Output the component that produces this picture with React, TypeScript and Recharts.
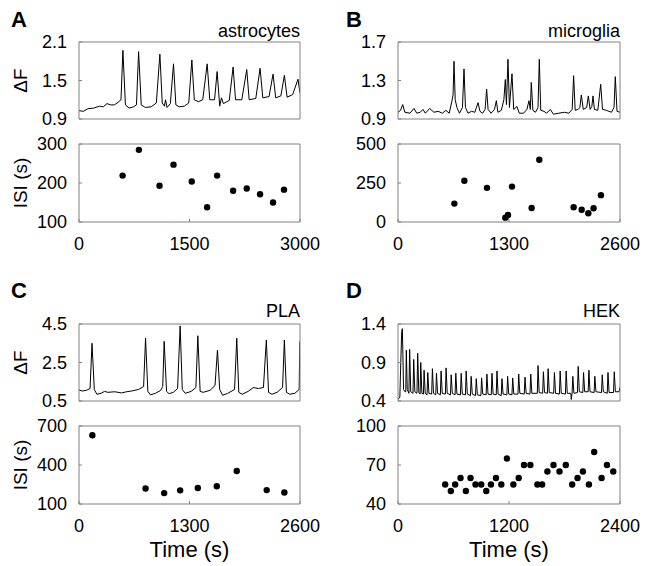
import React from 'react';
import { LineChart, Line, ScatterChart, Scatter, XAxis, YAxis } from 'recharts';

// ---- A: astrocytes ----
const astroTime = [0, 60, 120, 200, 280, 330, 380, 430, 480, 530, 570, 596, 630, 680, 740, 780, 809, 845, 900, 980, 1050, 1098, 1130, 1160, 1175, 1195, 1240, 1283, 1315, 1360, 1430, 1490, 1532, 1565, 1620, 1680, 1740, 1775, 1840, 1875, 1910, 1934, 1960, 2040, 2092, 2125, 2210, 2277, 2310, 2400, 2458, 2495, 2580, 2634, 2670, 2740, 2788, 2825, 2900, 2973, 3000];
const astroDF = [1.03, 1.02, 1.06, 1.07, 1.1, 1.09, 1.14, 1.12, 1.12, 1.16, 1.2, 1.97, 1.12, 1.07, 1.09, 1.12, 1.95, 1.12, 1.08, 1.09, 1.15, 1.91, 1.15, 1.1, 1.2, 1.08, 1.14, 1.76, 1.12, 1.09, 1.1, 1.15, 1.82, 1.2, 1.17, 1.2, 1.76, 1.2, 1.2, 1.64, 1.1, 1.23, 1.14, 1.19, 1.71, 1.2, 1.2, 1.67, 1.2, 1.22, 1.69, 1.23, 1.25, 1.6, 1.23, 1.26, 1.58, 1.24, 1.28, 1.52, 1.3];
const astroIsiTime = [592, 813, 1093, 1283, 1531, 1739, 1875, 2092, 2277, 2458, 2634, 2783];
const astroIsi = [219, 285, 193, 247, 204, 138, 219, 180, 186, 171, 150, 183];

// ---- B: microglia ----
const microTime = [0, 30, 55, 80, 140, 187, 220, 260, 293, 320, 371, 420, 470, 520, 560, 600, 630, 645, 656, 670, 690, 720, 755, 773, 790, 820, 860, 900, 937, 960, 990, 1020, 1038, 1055, 1090, 1130, 1152, 1170, 1210, 1240, 1257, 1270, 1288, 1305, 1335, 1355, 1393, 1420, 1470, 1510, 1534, 1550, 1561, 1580, 1610, 1640, 1655, 1672, 1710, 1740, 1784, 1820, 1880, 1952, 2000, 2040, 2057, 2075, 2110, 2130, 2147, 2170, 2210, 2229, 2250, 2270, 2284, 2300, 2340, 2374, 2395, 2440, 2500, 2530, 2545, 2565, 2600];
const microDF = [0.97, 0.99, 1.05, 0.97, 0.96, 1.01, 0.96, 0.97, 1.0, 0.96, 1.01, 0.97, 0.98, 0.96, 0.99, 0.96, 1.08, 1.15, 1.5, 1.1, 1.02, 0.96, 1.02, 1.42, 1.02, 0.96, 0.98, 0.97, 1.07, 0.98, 0.96, 1.0, 1.21, 1.0, 0.96, 1.0, 1.09, 0.97, 0.99, 1.1, 1.31, 1.05, 1.52, 1.02, 1.37, 1.0, 1.03, 0.96, 0.96, 1.0, 1.09, 1.0, 1.28, 0.99, 0.97, 1.02, 1.52, 0.99, 0.98, 0.96, 1.0, 0.95, 0.96, 0.97, 0.96, 1.0, 1.35, 0.99, 1.0, 1.02, 1.15, 1.0, 1.02, 1.14, 1.0, 1.03, 1.14, 1.0, 0.99, 1.26, 1.0, 0.99, 0.97, 1.02, 1.34, 0.98, 0.97];
const microIsiTime = [660, 777, 1042, 1257, 1288, 1335, 1565, 1655, 2057, 2151, 2229, 2291, 2377];
const microIsi = [118, 264, 219, 28, 45, 227, 90, 399, 95, 79, 56, 88, 172];

// ---- C: PLA ----
const plaTime = [0, 40, 90, 130, 153, 180, 210, 260, 300, 340, 420, 500, 560, 620, 700, 760, 783, 810, 840, 900, 960, 985, 1002, 1030, 1060, 1110, 1160, 1190, 1215, 1250, 1320, 1375, 1398, 1425, 1460, 1540, 1600, 1629, 1655, 1690, 1750, 1830, 1856, 1880, 1920, 1990, 2050, 2110, 2170, 2204, 2230, 2270, 2330, 2395, 2416, 2440, 2480, 2540, 2590, 2598];
const plaDF = [1.07, 1.02, 1.06, 1.15, 3.5, 1.1, 0.85, 0.9, 1.0, 0.95, 0.98, 0.92, 0.98, 1.02, 1.1, 1.25, 3.76, 1.0, 0.82, 0.9, 1.05, 1.25, 3.6, 1.0, 0.88, 0.95, 1.15, 4.4, 1.1, 0.9, 1.0, 1.2, 3.89, 1.0, 0.95, 1.05, 1.3, 3.15, 1.1, 0.8, 0.9, 1.1, 3.76, 0.95, 0.85, 1.0, 1.2, 1.15, 1.2, 3.67, 0.95, 0.85, 0.95, 1.2, 3.67, 0.95, 0.85, 0.9, 1.1, 3.6];
const plaIsiTime = [157, 783, 1002, 1190, 1398, 1621, 1856, 2208, 2416];
const plaIsi = [629, 219, 184, 205, 223, 236, 354, 207, 189];

// ---- D: HEK ----
const hekTime = [
  0, 20, 30, 40, 47, 53, 60, 75, 84, 90, 100, 118, 126, 138, 162, 170, 182, 205, 213, 225, 239, 246, 258, 275, 282, 294,
  314, 322, 334, 364, 372, 384, 408, 416, 428, 458, 466, 478, 512, 520, 532, 567, 575, 587, 617, 625, 637, 675, 683, 695,
  729, 737, 749, 783, 791, 803, 838, 846, 858, 896, 904, 916, 953, 961, 973, 1008, 1016, 1028, 1062, 1070, 1082, 1116, 1124, 1136,
  1177, 1185, 1197, 1232, 1240, 1252, 1297, 1305, 1317, 1365, 1373, 1385, 1427, 1435, 1447, 1506, 1514, 1526, 1564, 1572, 1584,
  1615, 1623, 1635, 1683, 1691, 1703, 1745, 1753, 1765, 1810, 1818, 1830, 1868, 1873, 1882, 1890, 1902, 1940, 1948, 1960,
  1998, 2006, 2018, 2056, 2064, 2076, 2120, 2128, 2140, 2200, 2208, 2220, 2262, 2270, 2282, 2330, 2338, 2350, 2390, 2400,
];
const hekDF = [
  0.42, 0.45, 0.9, 1.3, 1.34, 1.0, 0.55, 0.52, 0.52, 1.06, 0.55, 0.5, 1.07, 0.52, 0.5, 0.94, 0.52, 0.5, 1.02, 0.51, 0.49, 0.9, 0.5, 0.49, 0.8, 0.5,
  0.48, 0.77, 0.5, 0.49, 0.82, 0.5, 0.48, 0.76, 0.5, 0.48, 0.79, 0.5, 0.49, 0.83, 0.5, 0.48, 0.74, 0.5, 0.48, 0.76, 0.49, 0.48, 0.76, 0.49,
  0.48, 0.79, 0.49, 0.47, 0.72, 0.49, 0.47, 0.69, 0.48, 0.47, 0.7, 0.49, 0.48, 0.75, 0.49, 0.48, 0.76, 0.49, 0.48, 0.79, 0.49, 0.47, 0.69, 0.49,
  0.48, 0.72, 0.49, 0.48, 0.7, 0.49, 0.49, 0.75, 0.5, 0.49, 0.71, 0.5, 0.49, 0.75, 0.5, 0.5, 0.86, 0.51, 0.5, 0.78, 0.51,
  0.5, 0.82, 0.51, 0.5, 0.77, 0.5, 0.49, 0.79, 0.5, 0.49, 0.79, 0.5, 0.5, 0.42, 0.5, 0.72, 0.5, 0.51, 0.85, 0.52,
  0.51, 0.77, 0.52, 0.52, 0.8, 0.52, 0.51, 0.72, 0.52, 0.51, 0.74, 0.52, 0.5, 0.77, 0.51, 0.51, 0.78, 0.52, 0.52, 0.58,
];
const hekIsiTime = [510, 571, 618, 676, 734, 784, 838, 900, 954, 1005, 1059, 1117, 1178, 1247, 1305, 1362, 1431, 1507, 1558, 1615, 1681, 1746, 1814, 1883, 1941, 1999, 2064, 2121, 2201, 2259, 2327];
const hekIsi = [55, 50, 55, 60, 50, 60, 55, 55, 50, 55, 60, 55, 75, 55, 60, 70, 70, 55, 55, 65, 70, 65, 70, 55, 60, 65, 55, 80, 60, 70, 65];

// tick values
const xTicksA = [0, 1500, 3000];
const xTicksB = [0, 1300, 2600];
const xTicksC = [0, 1300, 2600];
const xTicksD = [0, 1200, 2400];
const yTicksA = [0.9, 1.5, 2.1];
const yTicksB = [0.9, 1.3, 1.7];
const yTicksC = [0.5, 2.5, 4.5];
const yTicksD = [0.4, 0.9, 1.4];
const isiTicksA = [100, 200, 300];
const isiTicksB = [0, 250, 500];
const isiTicksC = [100, 400, 700];
const isiTicksD = [40, 70, 100];

const GRAY = '#808080';
const FONT = "'Liberation Sans', Arial, Helvetica, sans-serif";
const PAD_L = 70;
const PAD_T = 14;
const PAD_R = 28;

type Box = { x: number; y: number; w: number; h: number };

const toRows = (t: number[], v: number[]) => t.map((x, i) => ({ t: x, v: v[i] }));

// box with MATLAB-style inward ticks on all four sides
function frameAxes(xTicks: number[], yTicks: number[], bottomH: number, showX: boolean, yLabel?: string, xLabel?: string) {
  const xDom = [xTicks[0], xTicks[xTicks.length - 1]];
  const yDom = [yTicks[0], yTicks[yTicks.length - 1]];
  return [
    <XAxis
      key="xb"
      type="number"
      dataKey="t"
      domain={xDom}
      ticks={xTicks}
      interval={0}
      allowDataOverflow
      height={bottomH}
      stroke={GRAY}
      tickSize={-3}
      tickMargin={18}
      tick={showX ? { fill: '#000', fontSize: 18 } : false}
      label={xLabel ? { value: xLabel, position: 'insideBottom', offset: 7, style: { fill: '#000', fontSize: 22 } } : undefined}
    />,
    <XAxis key="xt" xAxisId="top" orientation="top" type="number" domain={xDom} ticks={xTicks} interval={0} allowDataOverflow height={1} stroke={GRAY} tickSize={-3} tick={false} />,
    <YAxis
      key="yl"
      type="number"
      dataKey="v"
      domain={yDom}
      ticks={yTicks}
      interval={0}
      allowDataOverflow
      width={PAD_L}
      stroke={GRAY}
      tickSize={-3}
      tickMargin={15}
      tick={{ fill: '#000', fontSize: 18 }}
      label={yLabel ? { value: yLabel, angle: -90, position: 'insideLeft', offset: 11, style: { textAnchor: 'middle', fill: '#000', fontSize: 19 } } : undefined}
    />,
    <YAxis key="yr" yAxisId="right" orientation="right" type="number" domain={yDom} ticks={yTicks} interval={0} allowDataOverflow width={1} stroke={GRAY} tickSize={-3} tick={false} />,
  ];
}

function place(box: Box): React.CSSProperties {
  return { position: 'absolute', left: box.x - PAD_L, top: box.y - PAD_T };
}

const margin = { top: PAD_T - 1, right: PAD_R - 1, left: 0, bottom: 0 };

function Trace({ box, t, v, xTicks, yTicks, yLabel }: { box: Box; t: number[]; v: number[]; xTicks: number[]; yTicks: number[]; yLabel?: string }) {
  const bottomH = 14;
  return (
    <div style={place(box)}>
      <LineChart width={PAD_L + box.w + PAD_R} height={PAD_T + box.h + bottomH} data={toRows(t, v)} margin={margin}>
        {frameAxes(xTicks, yTicks, bottomH, false, yLabel)}
        <Line type="linear" dataKey="v" stroke="#000" strokeWidth={1} dot={false} isAnimationActive={false} />
      </LineChart>
    </div>
  );
}

function Isi({ box, t, v, xTicks, yTicks, yLabel, xLabel }: { box: Box; t: number[]; v: number[]; xTicks: number[]; yTicks: number[]; yLabel?: string; xLabel?: string }) {
  const bottomH = xLabel ? 60 : 34;
  return (
    <div style={place(box)}>
      <ScatterChart width={PAD_L + box.w + PAD_R} height={PAD_T + box.h + bottomH} margin={margin}>
        {frameAxes(xTicks, yTicks, bottomH, true, yLabel, xLabel)}
        <Scatter
          data={toRows(t, v)}
          fill="#000"
          isAnimationActive={false}
          shape={(p: any) => <circle cx={p.cx} cy={p.cy} r={3.2} fill="#000" />}
        />
      </ScatterChart>
    </div>
  );
}

export default function App() {
  return (
    <div style={{ position: 'absolute', left: 0, top: 0, width: 647, height: 566, background: '#fff', fontFamily: FONT }}>
      <Trace box={{ x: 79, y: 42, w: 221, h: 77 }} t={astroTime} v={astroDF} xTicks={xTicksA} yTicks={yTicksA} yLabel="ΔF" />
      <Isi box={{ x: 79, y: 144, w: 221, h: 78 }} t={astroIsiTime} v={astroIsi} xTicks={xTicksA} yTicks={isiTicksA} yLabel="ISI (s)" />
      <Trace box={{ x: 398, y: 42, w: 222, h: 77 }} t={microTime} v={microDF} xTicks={xTicksB} yTicks={yTicksB} />
      <Isi box={{ x: 398, y: 144, w: 222, h: 78 }} t={microIsiTime} v={microIsi} xTicks={xTicksB} yTicks={isiTicksB} />
      <Trace box={{ x: 79, y: 324, w: 221, h: 77 }} t={plaTime} v={plaDF} xTicks={xTicksC} yTicks={yTicksC} yLabel="ΔF" />
      <Isi box={{ x: 79, y: 426, w: 221, h: 78 }} t={plaIsiTime} v={plaIsi} xTicks={xTicksC} yTicks={isiTicksC} yLabel="ISI (s)" xLabel="Time (s)" />
      <Trace box={{ x: 398, y: 324, w: 222, h: 77 }} t={hekTime} v={hekDF} xTicks={xTicksD} yTicks={yTicksD} />
      <Isi box={{ x: 398, y: 426, w: 222, h: 78 }} t={hekIsiTime} v={hekIsi} xTicks={xTicksD} yTicks={isiTicksD} xLabel="Time (s)" />
      <svg width={647} height={566} style={{ position: 'absolute', left: 0, top: 0, pointerEvents: 'none' }}>
        <g fontFamily={FONT} fill="#000">
          <text x={11} y={27} fontSize={22} fontWeight="bold">A</text>
          <text x={346} y={27} fontSize={22} fontWeight="bold">B</text>
          <text x={11} y={298} fontSize={22} fontWeight="bold">C</text>
          <text x={346} y={298} fontSize={22} fontWeight="bold">D</text>
          <text x={300} y={37} fontSize={18} textAnchor="end">astrocytes</text>
          <text x={620} y={37} fontSize={18} textAnchor="end">microglia</text>
          <text x={300} y={317} fontSize={18} textAnchor="end">PLA</text>
          <text x={620} y={317} fontSize={18} textAnchor="end">HEK</text>
        </g>
      </svg>
    </div>
  );
}
